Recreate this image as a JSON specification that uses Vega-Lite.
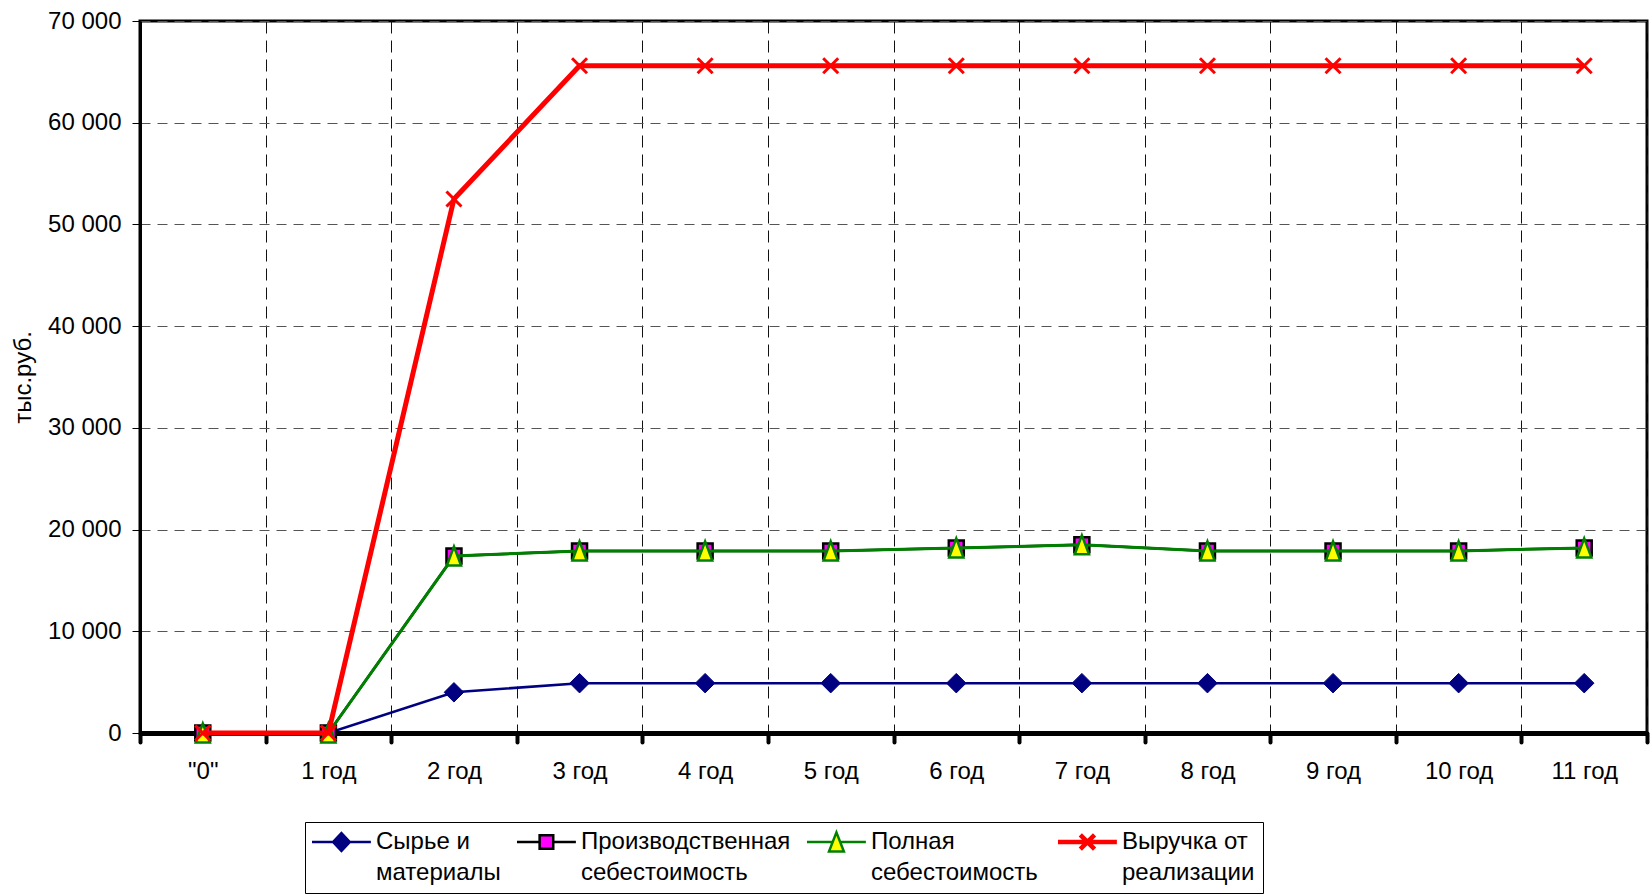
{
  "$schema": "https://vega.github.io/schema/vega-lite/v6.json",
  "width": 1507,
  "height": 712,
  "autosize": {"type": "none"},
  "padding": {"left": 140, "top": 21, "right": 3, "bottom": 161},
  "background": "white",
  "config": {
    "font": "Liberation Sans",
    "view": {"stroke": "black", "strokeWidth": 3},
    "axis": {
      "labelFont": "Liberation Sans",
      "labelFontSize": 24,
      "labelColor": "black",
      "titleFont": "Liberation Sans",
      "titleFontSize": 24,
      "titleFontWeight": "normal",
      "titleColor": "black"
    }
  },
  "data": {
    "values": [
      {"year": "\"0\"", "series": "Сырье и материалы", "value": 0},
      {"year": "1 год", "series": "Сырье и материалы", "value": 0},
      {"year": "2 год", "series": "Сырье и материалы", "value": 4000},
      {"year": "3 год", "series": "Сырье и материалы", "value": 4900},
      {"year": "4 год", "series": "Сырье и материалы", "value": 4900},
      {"year": "5 год", "series": "Сырье и материалы", "value": 4900},
      {"year": "6 год", "series": "Сырье и материалы", "value": 4900},
      {"year": "7 год", "series": "Сырье и материалы", "value": 4900},
      {"year": "8 год", "series": "Сырье и материалы", "value": 4900},
      {"year": "9 год", "series": "Сырье и материалы", "value": 4900},
      {"year": "10 год", "series": "Сырье и материалы", "value": 4900},
      {"year": "11 год", "series": "Сырье и материалы", "value": 4900},

      {"year": "\"0\"", "series": "Производственная себестоимость", "value": 0},
      {"year": "1 год", "series": "Производственная себестоимость", "value": 0},
      {"year": "2 год", "series": "Производственная себестоимость", "value": 17400},
      {"year": "3 год", "series": "Производственная себестоимость", "value": 17900},
      {"year": "4 год", "series": "Производственная себестоимость", "value": 17900},
      {"year": "5 год", "series": "Производственная себестоимость", "value": 17900},
      {"year": "6 год", "series": "Производственная себестоимость", "value": 18200},
      {"year": "7 год", "series": "Производственная себестоимость", "value": 18500},
      {"year": "8 год", "series": "Производственная себестоимость", "value": 17900},
      {"year": "9 год", "series": "Производственная себестоимость", "value": 17900},
      {"year": "10 год", "series": "Производственная себестоимость", "value": 17900},
      {"year": "11 год", "series": "Производственная себестоимость", "value": 18200},

      {"year": "\"0\"", "series": "Полная себестоимость", "value": 0},
      {"year": "1 год", "series": "Полная себестоимость", "value": 0},
      {"year": "2 год", "series": "Полная себестоимость", "value": 17400},
      {"year": "3 год", "series": "Полная себестоимость", "value": 17900},
      {"year": "4 год", "series": "Полная себестоимость", "value": 17900},
      {"year": "5 год", "series": "Полная себестоимость", "value": 17900},
      {"year": "6 год", "series": "Полная себестоимость", "value": 18200},
      {"year": "7 год", "series": "Полная себестоимость", "value": 18500},
      {"year": "8 год", "series": "Полная себестоимость", "value": 17900},
      {"year": "9 год", "series": "Полная себестоимость", "value": 17900},
      {"year": "10 год", "series": "Полная себестоимость", "value": 17900},
      {"year": "11 год", "series": "Полная себестоимость", "value": 18200},

      {"year": "\"0\"", "series": "Выручка от реализации", "value": 0},
      {"year": "1 год", "series": "Выручка от реализации", "value": 0},
      {"year": "2 год", "series": "Выручка от реализации", "value": 52500},
      {"year": "3 год", "series": "Выручка от реализации", "value": 65600},
      {"year": "4 год", "series": "Выручка от реализации", "value": 65600},
      {"year": "5 год", "series": "Выручка от реализации", "value": 65600},
      {"year": "6 год", "series": "Выручка от реализации", "value": 65600},
      {"year": "7 год", "series": "Выручка от реализации", "value": 65600},
      {"year": "8 год", "series": "Выручка от реализации", "value": 65600},
      {"year": "9 год", "series": "Выручка от реализации", "value": 65600},
      {"year": "10 год", "series": "Выручка от реализации", "value": 65600},
      {"year": "11 год", "series": "Выручка от реализации", "value": 65600}
    ]
  },
  "encoding": {
    "x": {
      "field": "year",
      "type": "ordinal",
      "sort": null,
      "scale": {
        "domain": ["\"0\"", "1 год", "2 год", "3 год", "4 год", "5 год", "6 год", "7 год", "8 год", "9 год", "10 год", "11 год"],
        "paddingInner": 0,
        "paddingOuter": 0
      },
      "axis": {
        "title": null,
        "zindex": 0,
        "tickBand": "extent",
        "grid": true,
        "gridDash": [12, 7],
        "gridColor": "#111111",
        "gridWidth": 1,
        "domainColor": "black",
        "domainWidth": 5,
        "tickColor": "black",
        "tickWidth": 4,
        "tickSize": 9,
        "tickCap": "round",
        "labelPadding": 17,
        "labelAngle": 0
      }
    },
    "y": {
      "field": "value",
      "type": "quantitative",
      "scale": {"domain": [0, 70000], "nice": false},
      "axis": {
        "title": "тыс.руб.",
        "zindex": 0,
        "values": [0, 10000, 20000, 30000, 40000, 50000, 60000, 70000],
        "labelExpr": "replace(format(datum.value, ','), ',', ' ')",
        "grid": true,
        "gridDash": [10, 7],
        "gridColor": "#555555",
        "gridWidth": 1,
        "domainColor": "black",
        "domainWidth": 3,
        "tickColor": "black",
        "tickSize": 8,
        "tickWidth": 1,
        "labelPadding": 11,
        "titlePadding": 12
      }
    }
  },
  "layer": [
    {
      "transform": [{"filter": "datum.series === 'Сырье и материалы'"}],
      "mark": {"type": "line", "strokeWidth": 2.5},
      "encoding": {
        "color": {
          "field": "series",
          "type": "nominal",
          "scale": {
            "domain": ["Сырье и материалы", "Производственная себестоимость", "Полная себестоимость", "Выручка от реализации"],
            "range": ["#000080", "#000000", "#008000", "#FF0000"]
          },
          "legend": {
            "title": null,
            "orient": "none",
            "legendX": 165,
            "legendY": 801,
            "direction": "horizontal",
            "columns": 4,
            "symbolSize": 3844,
            "symbolStrokeWidth": 2.5,
            "symbolType": "circle",
            "labelFont": "Liberation Sans",
            "labelFontSize": 24,
            "labelColor": "black",
            "labelLimit": 0,
            "labelOffset": 39,
            "columnPadding": 10,
            "padding": 8,
            "strokeColor": "black",
            "fillColor": "white",
            "labelExpr": "datum.label === 'Сырье и материалы' ? ['Сырье и', 'материалы'] : datum.label === 'Производственная себестоимость' ? ['Производственная', 'себестоимость'] : datum.label === 'Полная себестоимость' ? ['Полная', 'себестоимость'] : ['Выручка от', 'реализации']",
            "encode": {
              "labels": {"update": {"lineHeight": {"value": 31}}},
              "symbols": {
                "update": {
                  "size": {"value": 3844},
                  "shape": {"signal": "datum.value === 'Сырье и материалы' ? 'M-0.42,0H1.48M0.53,-0.29L0.8,0L0.53,0.29L0.26,0Z' : datum.value === 'Производственная себестоимость' ? 'M-0.42,0H0.31M0.75,0H1.48M0.31,-0.22H0.75V0.22H0.31Z' : datum.value === 'Полная себестоимость' ? 'M-0.42,0H0.41M0.65,0H1.48M0.53,-0.31L0.77,0.31H0.29Z' : 'M-0.42,0H1.48M0.3,-0.23L0.76,0.23M0.3,0.23L0.76,-0.23'"},
                  "fill": {"signal": "datum.value === 'Сырье и материалы' ? '#000080' : datum.value === 'Производственная себестоимость' ? '#FF00FF' : datum.value === 'Полная себестоимость' ? '#FFFF00' : 'transparent'"},
                  "stroke": {"signal": "datum.value === 'Сырье и материалы' ? '#000080' : datum.value === 'Производственная себестоимость' ? '#000000' : datum.value === 'Полная себестоимость' ? '#008000' : '#FF0000'"},
                  "strokeWidth": {"signal": "datum.value === 'Выручка от реализации' ? 4.5 : 2.5"},
                  "opacity": {"value": 1},
                  "fillOpacity": {"value": 1}
                }
              }
            }
          }
        }
      }
    },
    {
      "transform": [{"filter": "datum.series === 'Сырье и материалы'"}],
      "mark": {"type": "point", "shape": "diamond", "size": 380, "filled": true, "fill": "#000080", "stroke": "#000080", "strokeWidth": 1, "opacity": 1}
    },
    {
      "transform": [{"filter": "datum.series === 'Производственная себестоимость'"}],
      "mark": {"type": "line", "strokeWidth": 2.5},
      "encoding": {"color": {"field": "series", "type": "nominal"}}
    },
    {
      "transform": [{"filter": "datum.series === 'Производственная себестоимость'"}],
      "mark": {"type": "point", "shape": "square", "size": 225, "filled": true, "fill": "#FF00FF", "stroke": "#000000", "strokeWidth": 2.5, "opacity": 1}
    },
    {
      "transform": [{"filter": "datum.series === 'Полная себестоимость'"}],
      "mark": {"type": "line", "strokeWidth": 3},
      "encoding": {"color": {"field": "series", "type": "nominal"}}
    },
    {
      "transform": [{"filter": "datum.series === 'Полная себестоимость'"}],
      "mark": {"type": "point", "shape": "M0,-1L0.75,1L-0.75,1Z", "size": 361, "filled": true, "fill": "#FFFF00", "stroke": "#008000", "strokeWidth": 2.5, "opacity": 1}
    },
    {
      "transform": [{"filter": "datum.series === 'Выручка от реализации'"}],
      "mark": {"type": "line", "strokeWidth": 5},
      "encoding": {"color": {"field": "series", "type": "nominal"}}
    },
    {
      "transform": [{"filter": "datum.series === 'Выручка от реализации'"}],
      "mark": {"type": "point", "shape": "M-1,-1L1,1M-1,1L1,-1", "size": 225, "filled": false, "fill": "transparent", "stroke": "#FF0000", "strokeWidth": 3, "opacity": 1}
    }
  ]
}
